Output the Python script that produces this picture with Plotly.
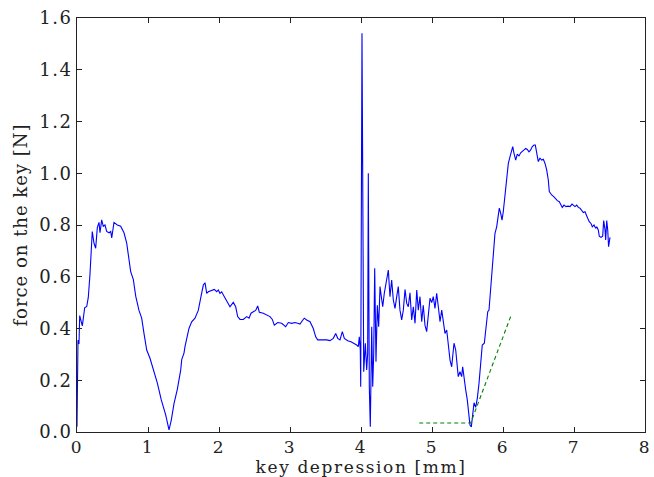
import plotly.graph_objects as go

# key depression [mm]
depression = [
    0.000, 0.003, 0.014, 0.028, 0.038, 0.075, 0.108, 0.137, 0.159, 0.183, 0.215, 0.239, 0.263, 0.286, 0.310,
    0.324, 0.348, 0.370, 0.394, 0.418, 0.451, 0.475, 0.489, 0.521, 0.568, 0.615, 0.662, 0.700, 0.732, 0.756,
    0.793, 0.827, 0.873, 0.911, 0.944, 0.982, 1.028, 1.075, 1.131, 1.187, 1.249, 1.296, 1.328, 1.366, 1.413,
    1.461, 1.475, 1.507, 1.521, 1.577, 1.615, 1.662, 1.708, 1.746, 1.779, 1.803, 1.827, 1.849, 1.897, 1.934,
    1.968, 1.990, 2.014, 2.038, 2.075, 2.123, 2.155, 2.201, 2.235, 2.263, 2.296, 2.342, 2.390, 2.423, 2.451,
    2.483, 2.517, 2.545, 2.568, 2.624, 2.672, 2.718, 2.751, 2.779, 2.827, 2.883, 2.939, 2.976, 3.024, 3.070,
    3.108, 3.141, 3.173, 3.201, 3.235, 3.282, 3.328, 3.362, 3.390, 3.446, 3.517, 3.563, 3.610, 3.644, 3.672,
    3.704, 3.737, 3.765, 3.813, 3.859, 3.906, 3.939, 3.962, 3.976, 3.990, 3.996, 4.014, 4.038, 4.061, 4.080,
    4.094, 4.103, 4.117, 4.131, 4.151, 4.165, 4.179, 4.193, 4.211, 4.230, 4.249, 4.268, 4.286, 4.306, 4.328,
    4.352, 4.385, 4.408, 4.432, 4.455, 4.479, 4.503, 4.525, 4.549, 4.573, 4.596, 4.620, 4.644, 4.666, 4.690,
    4.714, 4.737, 4.761, 4.785, 4.807, 4.831, 4.855, 4.877, 4.901, 4.925, 4.948, 4.972, 4.996, 5.018, 5.042,
    5.066, 5.089, 5.113, 5.137, 5.159, 5.183, 5.207, 5.230, 5.254, 5.277, 5.310, 5.334, 5.348, 5.370, 5.394,
    5.418, 5.432, 5.451, 5.475, 5.497, 5.521, 5.535, 5.554, 5.573, 5.592, 5.615, 5.638, 5.662, 5.686, 5.708,
    5.737, 5.761, 5.785, 5.803, 5.817, 5.841, 5.863, 5.887, 5.911, 5.934, 5.948, 5.968, 5.986, 6.004, 6.028,
    6.052, 6.075, 6.099, 6.123, 6.137, 6.155, 6.179, 6.201, 6.225, 6.249, 6.272, 6.296, 6.320, 6.342, 6.366,
    6.390, 6.413, 6.437, 6.455, 6.475, 6.497, 6.521, 6.545, 6.568, 6.592, 6.615, 6.638, 6.652, 6.686, 6.718,
    6.746, 6.765, 6.793, 6.813, 6.835, 6.859, 6.887, 6.915, 6.944, 6.972, 6.990, 7.014, 7.038, 7.061, 7.085,
    7.108, 7.131, 7.155, 7.169, 7.193, 7.215, 7.239, 7.258, 7.282, 7.306, 7.320, 7.342, 7.356, 7.380, 7.404,
    7.418, 7.437, 7.446, 7.461, 7.475, 7.487, 7.507,
]

# force on the key [N]
force = [
    0.020, 0.280, 0.355, 0.340, 0.450, 0.410, 0.480, 0.485, 0.520, 0.610, 0.775, 0.730, 0.710, 0.790, 0.810,
    0.770, 0.820, 0.795, 0.800, 0.775, 0.770, 0.775, 0.750, 0.810, 0.800, 0.795, 0.770, 0.730, 0.665, 0.620,
    0.590, 0.525, 0.470, 0.440, 0.380, 0.317, 0.285, 0.240, 0.190, 0.124, 0.066, 0.008, 0.046, 0.110, 0.165,
    0.240, 0.280, 0.305, 0.330, 0.400, 0.426, 0.440, 0.470, 0.523, 0.568, 0.577, 0.536, 0.542, 0.546, 0.551,
    0.542, 0.549, 0.536, 0.542, 0.523, 0.500, 0.484, 0.501, 0.484, 0.446, 0.435, 0.435, 0.446, 0.440, 0.459,
    0.465, 0.470, 0.487, 0.463, 0.459, 0.452, 0.446, 0.435, 0.413, 0.423, 0.420, 0.407, 0.423, 0.420, 0.423,
    0.420, 0.417, 0.430, 0.440, 0.433, 0.426, 0.400, 0.368, 0.356, 0.356, 0.356, 0.353, 0.362, 0.381, 0.362,
    0.356, 0.388, 0.362, 0.353, 0.349, 0.343, 0.336, 0.330, 0.368, 0.317, 0.175, 1.541, 0.233, 0.343, 0.240,
    0.304, 1.000, 0.175, 0.020, 0.407, 0.175, 0.304, 0.633, 0.272, 0.490, 0.407, 0.562, 0.523, 0.484, 0.536,
    0.575, 0.626, 0.523, 0.587, 0.510, 0.478, 0.523, 0.562, 0.471, 0.433, 0.471, 0.551, 0.497, 0.484, 0.538,
    0.433, 0.484, 0.420, 0.549, 0.471, 0.523, 0.426, 0.490, 0.413, 0.388, 0.459, 0.517, 0.500, 0.523, 0.478,
    0.536, 0.484, 0.426, 0.471, 0.426, 0.381, 0.394, 0.343, 0.278, 0.252, 0.343, 0.317, 0.265, 0.214, 0.233,
    0.214, 0.252, 0.201, 0.162, 0.124, 0.059, 0.027, 0.020, 0.072, 0.113, 0.095, 0.130, 0.188, 0.265, 0.336,
    0.343, 0.407, 0.465, 0.471, 0.523, 0.613, 0.716, 0.768, 0.793, 0.832, 0.865, 0.845, 0.819, 0.851, 0.916,
    0.987, 1.038, 1.064, 1.083, 1.103, 1.077, 1.051, 1.074, 1.067, 1.079, 1.083, 1.090, 1.096, 1.092, 1.083,
    1.090, 1.103, 1.109, 1.109, 1.074, 1.045, 1.058, 1.051, 1.054, 1.038, 1.013, 0.974, 0.929, 0.916, 0.909,
    0.899, 0.894, 0.890, 0.881, 0.868, 0.877, 0.871, 0.873, 0.871, 0.881, 0.877, 0.871, 0.877, 0.868, 0.865,
    0.858, 0.848, 0.851, 0.839, 0.826, 0.813, 0.806, 0.793, 0.800, 0.787, 0.793, 0.781, 0.757, 0.752, 0.757,
    0.817, 0.781, 0.742, 0.817, 0.781, 0.716, 0.752,
]

# fitted guide lines (green dashed)
guide_x = [4.82, 5.545, 6.12]
guide_y = [0.035, 0.035, 0.455]

x_ticks = [0, 1, 2, 3, 4, 5, 6, 7, 8]
y_ticks = [0.0, 0.2, 0.4, 0.6, 0.8, 1.0, 1.2, 1.4, 1.6]

FONT = "DejaVu Serif"


def spaced(text, px):
    return f'<span style="letter-spacing:{px}px">{text}</span>'


fig = go.Figure()
fig.add_trace(go.Scatter(x=depression, y=force, mode="lines",
                         line=dict(color="#0000ff", width=1.1), showlegend=False))
fig.add_trace(go.Scatter(x=guide_x, y=guide_y, mode="lines",
                         line=dict(color="#008000", width=1.1, dash="4px,3px"), showlegend=False))

axis_common = dict(showline=True, linecolor="#222", linewidth=1, mirror="ticks",
                   ticks="inside", ticklen=5, tickcolor="#222", showgrid=False, zeroline=False,
                   automargin=False)

fig.update_layout(
    width=654, height=477,
    margin=dict(l=77, r=9, t=18, b=45, autoexpand=False),
    paper_bgcolor="white", plot_bgcolor="white",
    font=dict(family=FONT, color="#222"),
    xaxis=dict(range=[0, 8], tickvals=x_ticks, ticktext=[spaced(str(v), 1.5) for v in x_ticks],
               tickfont=dict(family=FONT, size=17, color="#222"),
               title=dict(text=spaced("key depression [mm]", 1.6), font=dict(family=FONT, size=17), standoff=0),
               **axis_common),
    yaxis=dict(range=[0, 1.6], tickvals=y_ticks, ticktext=[spaced(f"{v:.1f}", 1.5) for v in y_ticks],
               tickfont=dict(family=FONT, size=18, color="#222"),
               title=dict(text=spaced("force on the key [N]", 1.0), font=dict(family=FONT, size=18), standoff=6),
               **axis_common),
)

fig.write_html("out.html")
